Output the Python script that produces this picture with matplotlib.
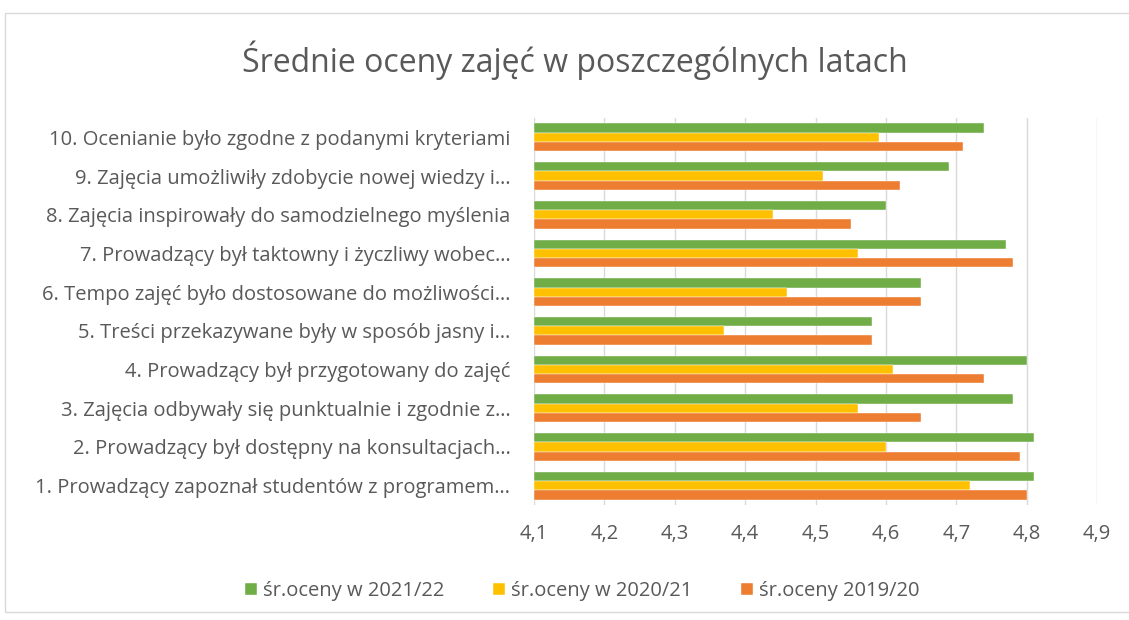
import matplotlib.pyplot as plt
import numpy as np
from matplotlib.patches import Rectangle

plt.rcParams['font.family'] = ['Open Sans', 'DejaVu Sans']

# Data (category 1 at the bottom)
labels = [
    "1. Prowadzący zapoznał studentów z programem…",
    "2. Prowadzący był dostępny na konsultacjach…",
    "3. Zajęcia odbywały się punktualnie i zgodnie z…",
    "4. Prowadzący był przygotowany do zajęć",
    "5. Treści przekazywane były w sposób jasny i…",
    "6. Tempo zajęć było dostosowane do możliwości…",
    "7. Prowadzący był taktowny i życzliwy wobec…",
    "8. Zajęcia inspirowały do samodzielnego myślenia",
    "9. Zajęcia umożliwiły zdobycie nowej wiedzy i…",
    "10. Ocenianie było zgodne z podanymi kryteriami",
]
oceny_2021_22 = [4.81, 4.81, 4.78, 4.80, 4.58, 4.65, 4.77, 4.60, 4.69, 4.74]
oceny_2020_21 = [4.72, 4.60, 4.56, 4.61, 4.37, 4.46, 4.56, 4.44, 4.51, 4.59]
oceny_2019_20 = [4.80, 4.79, 4.65, 4.74, 4.58, 4.65, 4.78, 4.55, 4.62, 4.71]
series_names = ["śr.oceny w 2021/22", "śr.oceny w 2020/21", "śr.oceny 2019/20"]
ticks = [4.1, 4.2, 4.3, 4.4, 4.5, 4.6, 4.7, 4.8, 4.9]

green = "#70AD47"
yellow = "#FFC000"
orange = "#ED7D31"
text_col = "#595959"

fig = plt.figure(figsize=(11.29, 6.20), dpi=100)
fig.patches.append(Rectangle((5 / 1129, 1 - 612 / 620), 1.2, 599 / 620,
                             transform=fig.transFigure, fill=False,
                             edgecolor="#D9D9D9", linewidth=1))

ax = fig.add_axes([534 / 1129, 1 - 505 / 620, (1097 - 534) / 1129, (505 - 118) / 620])

y = np.arange(len(labels))
h = 0.24
base = 4.1
ax.barh(y + h, np.array(oceny_2021_22) - base, h, left=base, color=green,
        edgecolor="white", linewidth=0.3, label=series_names[0])
ax.barh(y, np.array(oceny_2020_21) - base, h, left=base, color=yellow,
        edgecolor="white", linewidth=0.3, label=series_names[1])
ax.barh(y - h, np.array(oceny_2019_20) - base, h, left=base, color=orange,
        edgecolor="white", linewidth=0.3, label=series_names[2])

ax.set_xlim(4.1, 4.9)
ax.set_ylim(-0.5, len(labels) - 0.5)
ax.set_xticks(ticks)
ax.set_xticklabels([f"{t:.1f}".replace(".", ",") for t in ticks])
ax.set_yticks(y)
ax.set_yticklabels(labels)
ax.tick_params(axis="both", length=0, labelcolor=text_col, labelsize=14.5)
ax.tick_params(axis="x", pad=14)
ax.tick_params(axis="y", pad=17)
ax.grid(axis="x", color="#D9D9D9", linewidth=1)
ax.set_axisbelow(True)
for s in ax.spines.values():
    s.set_visible(False)

fig.text(575 / 1129, 1 - 60 / 620, "Średnie oceny zajęć w poszczególnych latach",
         ha="center", va="center", fontsize=23, color=text_col)

fig.legend(loc="center", bbox_to_anchor=(582 / 1129, 1 - 591 / 620), ncol=3,
           frameon=False, fontsize=14.5, labelcolor=text_col, handlelength=0.6,
           handleheight=0.6, handletextpad=0.3, columnspacing=2.4)

fig.savefig("out.png", dpi=100)
